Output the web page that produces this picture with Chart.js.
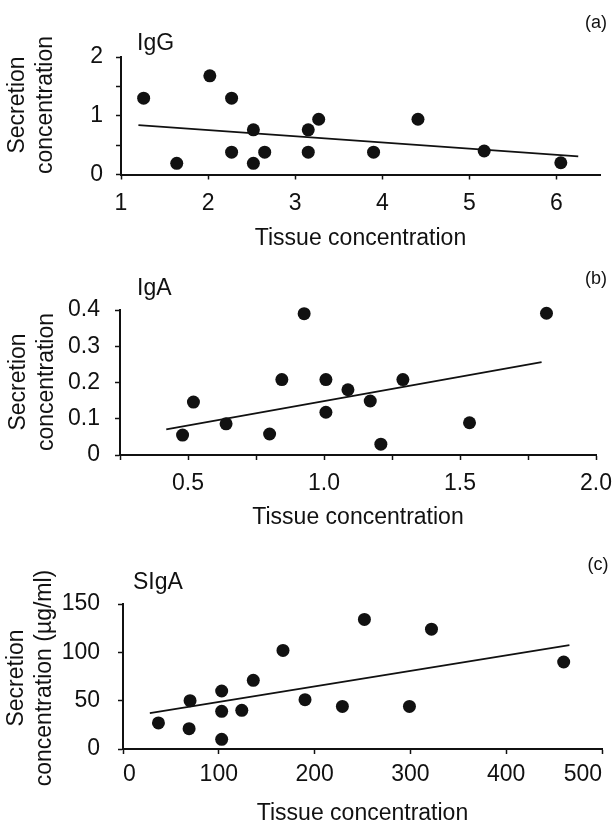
<!DOCTYPE html>
<html>
<head>
<meta charset="utf-8">
<script src="https://cdn.jsdelivr.net/npm/chart.js@4.4.1/dist/chart.umd.min.js"></script>
<style>
  body { margin: 0; background: #fff; }
  #wrap { position: relative; width: 616px; height: 827px; }
  canvas { position: absolute; left: 0; }
</style>
</head>
<body>
<div id="wrap">
  <canvas id="chartA" width="616" height="265" style="top:0px"></canvas>
  <canvas id="chartB" width="616" height="275" style="top:265px"></canvas>
  <canvas id="chartC" width="616" height="287" style="top:540px"></canvas>
</div>
<script>
// (a) IgG
const igGTissue    = [1.26, 1.64, 2.02, 2.27, 2.27, 2.52, 2.52, 2.65, 3.15, 3.15, 3.27, 3.90, 4.41, 5.17, 6.05];
const igGSecretion = [1.30, 0.19, 1.68, 1.30, 0.38, 0.76, 0.19, 0.38, 0.76, 0.38, 0.94, 0.38, 0.94, 0.40, 0.20];
const igGFitX = [1.2, 6.25];
const igGFitY = [0.84, 0.31];
const igGXTicks = [1, 2, 3, 4, 5, 6];
const igGXLabels = ['1', '2', '3', '4', '5', '6'];
const igGYTicks = [0, 1, 2];
const igGYLabels = ['0', '1', '2'];

// (b) IgA
const igATissue    = [0.48, 0.52, 0.64, 0.80, 0.845, 0.927, 1.007, 1.007, 1.088, 1.17, 1.209, 1.29, 1.535, 1.818];
const igASecretion = [0.055, 0.146, 0.086, 0.058, 0.208, 0.39, 0.208, 0.118, 0.18, 0.149, 0.03, 0.208, 0.089, 0.391];
const igAFitX = [0.42, 1.80];
const igAFitY = [0.071, 0.256];
const igAXTicks = [0.5, 1.0, 1.5, 2.0];
const igAXLabels = ['0.5', '1.0', '1.5', '2.0'];
const igAYTicks = [0, 0.1, 0.2, 0.3, 0.4];
const igAYLabels = ['0', '0.1', '0.2', '0.3', '0.4'];

// (c) SIgA
const sIgATissue    = [37, 69, 70, 103, 103, 103, 124, 136, 167, 190, 229, 252, 299, 322, 460];
const sIgASecretion = [27, 21, 50, 60, 39, 10, 40, 71, 102, 51, 44, 134, 44, 124, 90];
const sIgAFitX = [28, 466];
const sIgAFitY = [37, 107.5];
const sIgAXTicks = [0, 100, 200, 300, 400, 500];
const sIgAXLabels = ['0', '100', '200', '300', '400', '500'];
const sIgAYTicks = [0, 50, 100, 150];
const sIgAYLabels = ['0', '50', '100', '150'];

const FONT = '"Liberation Sans", Arial, Helvetica, sans-serif';
const INK = '#111';

// panel name, letter and the two-line y title
const panelLabels = {
  id: 'panelLabels',
  afterDraw(chart, args, opts) {
    const ctx = chart.ctx;
    ctx.save();
    ctx.fillStyle = INK;
    ctx.textBaseline = 'middle';
    ctx.textAlign = 'left';
    ctx.font = '23px ' + FONT;
    ctx.fillText(opts.name, opts.nameX, opts.nameY);

    ctx.textAlign = 'center';
    ctx.font = '18px ' + FONT;
    ctx.fillText(opts.letter, opts.letterX, opts.letterY);

    ctx.font = '23px ' + FONT;
    opts.yTitle.forEach((line, i) => {
      ctx.save();
      ctx.translate(opts.yTitleX + i * 28, opts.yTitleY);
      ctx.rotate(-Math.PI / 2);
      ctx.fillText(line, 0, 0);
      ctx.restore();
    });
    ctx.restore();
  }
};

function labelFor(ticks, labels) {
  return (value) => {
    const i = ticks.findIndex(v => Math.abs(v - value) < 1e-6);
    return i >= 0 ? labels[i] : '';
  };
}

function makeChart(id, p) {
  const points = p.x.map((x, i) => ({ x: x, y: p.y[i] }));
  const fit = p.fitX.map((x, i) => ({ x: x, y: p.fitY[i] }));
  return new Chart(document.getElementById(id), {
    type: 'scatter',
    data: {
      datasets: [
        {
          data: points,
          pointRadius: 6.5,
          pointBackgroundColor: INK,
          pointBorderWidth: 0,
          clip: false
        },
        {
          data: fit,
          showLine: true,
          pointRadius: 0,
          borderColor: INK,
          borderWidth: 1.8,
          clip: false
        }
      ]
    },
    plugins: [panelLabels],
    options: {
      responsive: false,
      animation: false,
      devicePixelRatio: 1,
      layout: { padding: { top: p.top, right: p.right, left: 0, bottom: 0 } },
      plugins: {
        legend: { display: false },
        tooltip: { enabled: false },
        panelLabels: p.labels
      },
      scales: {
        x: {
          type: 'linear',
          min: p.xMin,
          max: p.xMax,
          afterFit: (s) => { s.height = p.xHeight; s.paddingLeft = 0; s.paddingRight = 0; },
          border: { display: true, color: INK, width: 2 },
          grid: { drawOnChartArea: false, drawTicks: true, tickLength: 5, tickWidth: 1.5, tickColor: INK },
          ticks: {
            stepSize: p.xStep,
            includeBounds: false,
            maxRotation: 0,
            autoSkip: false,
            align: p.xAlign || 'center',
            padding: p.xTickPad,
            color: INK,
            font: { family: FONT, size: 23 },
            callback: labelFor(p.xTicks, p.xLabels)
          },
          title: {
            display: true,
            text: 'Tissue concentration',
            color: INK,
            font: { family: FONT, size: 23, lineHeight: 1.2 },
            padding: { top: 0, bottom: p.xTitlePad }
          }
        },
        y: {
          type: 'linear',
          min: p.yMin,
          max: p.yMax,
          afterFit: (s) => { s.width = p.left; s.paddingTop = 0; s.paddingBottom = 0; },
          border: { display: true, color: INK, width: 2 },
          grid: { drawOnChartArea: false, drawTicks: true, tickLength: 5, tickWidth: 1.5, tickColor: INK },
          ticks: {
            stepSize: p.yStep,
            autoSkip: false,
            padding: p.yTickPad,
            color: INK,
            font: { family: FONT, size: 23 },
            callback: labelFor(p.yTicks, p.yLabels)
          }
        }
      }
    }
  });
}

makeChart('chartA', {
  x: igGTissue, y: igGSecretion, fitX: igGFitX, fitY: igGFitY,
  xMin: 1, xMax: 6.5, xStep: 1, xTicks: igGXTicks, xLabels: igGXLabels,
  yMin: 0, yMax: 2, yStep: 0.5, yTicks: igGYTicks, yLabels: igGYLabels,
  top: 57, right: 16, left: 121, xHeight: 90.5, xTickPad: 10, xTitlePad: 13, yTickPad: 13,
  labels: { name: 'IgG', nameX: 137, nameY: 44, letter: '(a)', letterX: 596, letterY: 23,
            yTitle: ['Secretion', 'concentration'], yTitleX: 18, yTitleY: 105 }
});

makeChart('chartB', {
  x: igATissue, y: igASecretion, fitX: igAFitX, fitY: igAFitY,
  xMin: 0.25, xMax: 2.0, xStep: 0.25, xTicks: igAXTicks, xLabels: igAXLabels,
  yMin: 0, yMax: 0.4, yStep: 0.1, yTicks: igAYTicks, yLabels: igAYLabels,
  top: 45, right: 20, left: 120, xHeight: 85, xTickPad: 10, xTitlePad: 9, yTickPad: 15,
  labels: { name: 'IgA', nameX: 137, nameY: 24, letter: '(b)', letterX: 596, letterY: 14,
            yTitle: ['Secretion', 'concentration'], yTitleX: 19, yTitleY: 117 }
});

makeChart('chartC', {
  x: sIgATissue, y: sIgASecretion, fitX: sIgAFitX, fitY: sIgAFitY,
  xMin: 0, xMax: 500, xStep: 100, xTicks: sIgAXTicks, xLabels: sIgAXLabels, xAlign: 'inner',
  yMin: 0, yMax: 150, yStep: 50, yTicks: sIgAYTicks, yLabels: sIgAYLabels,
  top: 64, right: 14, left: 123, xHeight: 78, xTickPad: 7, xTitlePad: 0, yTickPad: 18,
  labels: { name: 'SIgA', nameX: 133, nameY: 43, letter: '(c)', letterX: 598, letterY: 25,
            yTitle: ['Secretion', 'concentration (\u00b5g/ml)'], yTitleX: 17, yTitleY: 138 }
});
</script>
</body>
</html>
